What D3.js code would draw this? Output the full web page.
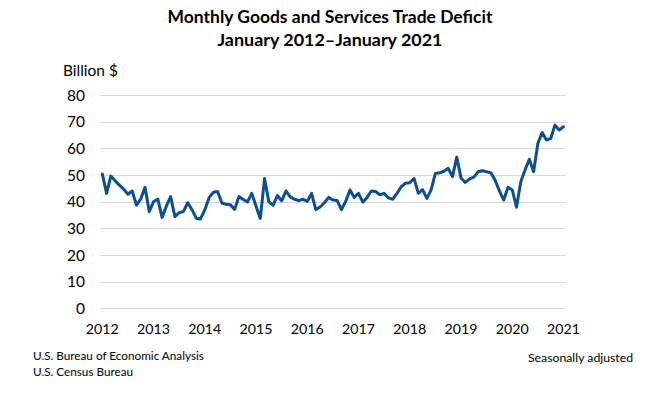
<!DOCTYPE html>
<html><head><meta charset="utf-8">
<script src="https://cdn.jsdelivr.net/npm/d3@7"></script>
<style>
body{margin:0;background:#fff}
svg{display:block}
text{font-family:Lato,"Open Sans",sans-serif;fill:#000}
</style>
</head><body>
<svg id="c" width="646" height="393"></svg>
<script>
// Monthly goods and services trade deficit, billions of dollars, Jan 2012 - Jan 2021
const deficit2012 = [50.4,43.1,49.6,47.8,46.2,44.7,42.8,44.0,38.7,41.0,45.4,36.2];
const deficit2013 = [40.0,41.0,34.1,38.3,41.9,34.4,35.9,36.3,39.6,37.0,33.8,33.5];
const deficit2014 = [36.9,41.5,43.5,43.8,39.5,39.0,38.8,37.1,41.9,40.8,39.9,43.1];
const deficit2015 = [38.3,33.7,48.7,40.0,38.6,42.3,40.3,44.0,41.8,40.9,40.4,40.9];
const deficit2016 = [40.1,43.1,37.0,38.0,39.6,41.6,40.6,40.4,37.0,40.1,44.4,41.6];
const deficit2017 = [43.1,39.8,41.6,44.0,43.8,42.6,43.1,41.4,40.9,43.1,45.6,46.9];
const deficit2018 = [47.1,48.7,43.1,44.5,41.2,44.4,50.6,50.8,51.4,52.5,49.4,56.7];
const deficit2019 = [48.9,47.2,48.5,49.2,51.2,51.6,51.2,50.8,48.0,44.0,40.6,45.4];
const deficit2020 = [44.4,37.9,47.5,51.9,55.9,51.2,61.9,65.9,63.1,63.7,68.7,66.9];
const deficit2021 = [68.1];
const yTicks = [0,10,20,30,40,50,60,70,80];
const xTickLabels = ["2012","2013","2014","2015","2016","2017","2018","2019","2020","2021"];
const titleLines = ["Monthly Goods and Services Trade Deficit","January 2012\u2013January 2021"];
const yUnit = "Billion $";
const sources = ["U.S. Bureau of Economic Analysis","U.S. Census Bureau"];
const note = "Seasonally adjusted";

const deficit = [].concat(deficit2012,deficit2013,deficit2014,deficit2015,deficit2016,
  deficit2017,deficit2018,deficit2019,deficit2020,deficit2021);

const svg = d3.select("#c");
const x = d3.scaleLinear().domain([0, deficit.length - 1]).range([102.3, 563.5]);
const y = d3.scaleLinear().domain([0, 80]).range([308.3, 95]);

function fit(sel, w){
  const n = sel.node(); const fs = parseFloat(sel.attr("font-size"));
  const len = n.getComputedTextLength();
  sel.attr("font-size", (fs * w / len).toFixed(2));
}

// gridlines
svg.append("g").selectAll("line").data(yTicks).join("line")
  .attr("x1", 100).attr("x2", 566)
  .attr("y1", d => Math.round(y(d)) + 0.5).attr("y2", d => Math.round(y(d)) + 0.5)
  .attr("stroke", "#d9d9d9").attr("stroke-width", 1);

// y axis labels
const yl = svg.append("g").selectAll("text").data(yTicks).join("text")
  .attr("x", 85).attr("y", d => y(d)).attr("dy", "0.36em")
  .attr("text-anchor", "end").attr("font-size", 15.5).attr("fill", "#000")
  .text(d => d);

// x axis labels
svg.append("g").selectAll("text").data(xTickLabels).join("text")
  .attr("x", (d, i) => x(i * 12)).attr("y", 334)
  .attr("text-anchor", "middle").attr("font-size", 14.2)
  .text(d => d);

// line
svg.append("path").datum(deficit)
  .attr("fill", "none").attr("stroke", "#0b4f93").attr("stroke-width", 3)
  .attr("stroke-linejoin", "round").attr("stroke-linecap", "round")
  .attr("d", d3.line().x((d, i) => x(i)).y(d => y(d)));

// title
const t1 = svg.append("text").attr("x", 330).attr("y", 23.3).attr("text-anchor", "middle")
  .attr("font-weight", "bold").attr("font-size", 17).text(titleLines[0]);
fit(t1, 325);
const t2 = svg.append("text").attr("x", 330).attr("y", 46).attr("text-anchor", "middle")
  .attr("font-weight", "bold").attr("font-size", 17).text(titleLines[1]);
fit(t2, 225);

// unit
const u = svg.append("text").attr("x", 63).attr("y", 76).attr("font-size", 15).text(yUnit);
fit(u, 55);

// sources
const s1 = svg.append("text").attr("x", 33).attr("y", 360).attr("font-size", 12).text(sources[0]);
fit(s1, 171);
const s2 = svg.append("text").attr("x", 33).attr("y", 376).attr("font-size", 12).text(sources[1]);
s2.attr("font-size", s1.attr("font-size"));
const n1 = svg.append("text").attr("x", 633).attr("y", 361.5).attr("text-anchor", "end").attr("font-size", 12).text(note);
fit(n1, 105);
</script>
</body></html>
